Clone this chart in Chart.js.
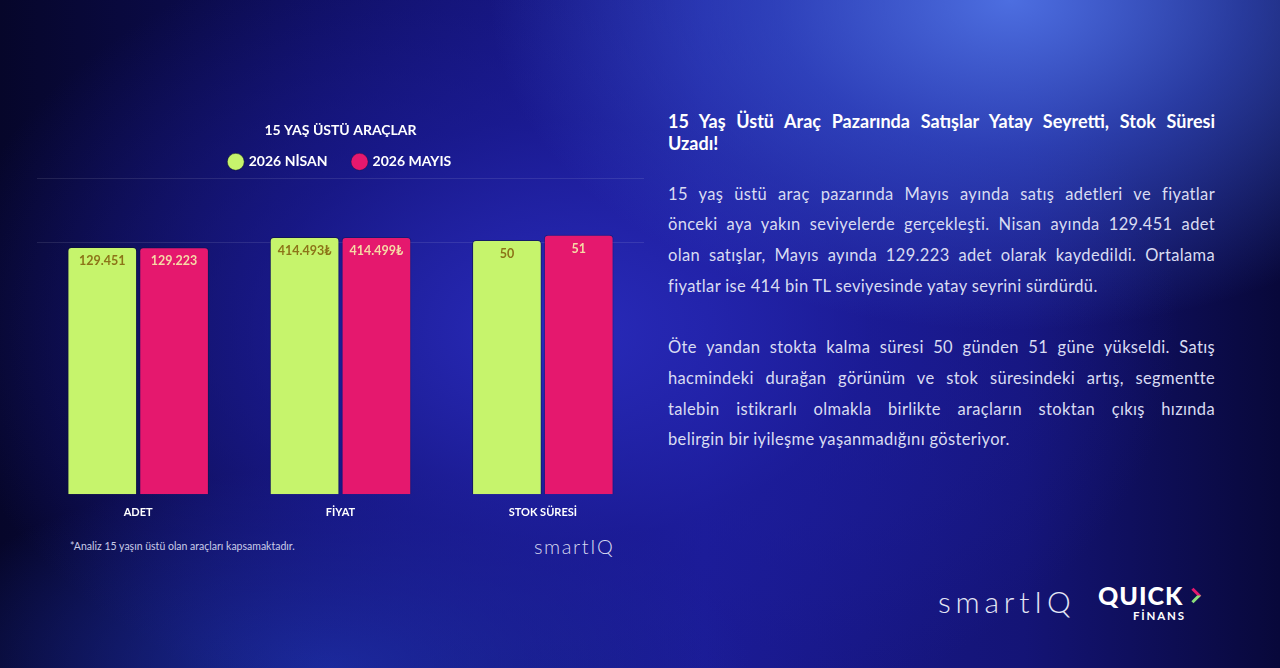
<!DOCTYPE html>
<html lang="tr">
<head>
<meta charset="utf-8">
<script src="https://cdn.jsdelivr.net/npm/chart.js@4.4.1/dist/chart.umd.min.js"></script>
<style>
  html, body { margin: 0; padding: 0; }
  body {
    width: 1280px; height: 668px; overflow: hidden; position: relative;
    font-family: Lato, "Open Sans", sans-serif;
    background:
      radial-gradient(ellipse 520px 330px at 1010px 0px, rgba(80,115,230,0.95) 0%, rgba(60,90,215,0.6) 45%, rgba(50,60,200,0) 100%),
      radial-gradient(ellipse 620px 420px at 560px 330px, rgba(42,44,190,0.95) 0%, rgba(30,30,160,0.6) 50%, rgba(20,20,120,0) 100%),
      radial-gradient(ellipse 420px 200px at 330px 668px, rgba(30,50,170,0.8) 0%, rgba(30,50,170,0) 100%),
      linear-gradient(90deg, #06062a 0%, #0e0e5e 25%, #1a1a92 55%, #141476 80%, #08083a 100%);
  }
  #chartBox { position: absolute; left: 0; top: 0; width: 660px; height: 522px; }
  .note { position: absolute; left: 70px; top: 540px; color: #c9cce8; font-size: 10.5px; }
  .logoSmall { position: absolute; left: 534px; top: 534px; color: #d7d9f0; font-size: 20px; font-weight: 300; letter-spacing: 1.6px; }
  .text { position: absolute; left: 668px; top: 110px; width: 547px; color: #d9dcf2; }
  .text h2 { margin: 0 0 24.5px 0; font-size: 18px; line-height: 22px; font-weight: 700; color: #ffffff; }
  .text p { margin: 0 0 31px 0; font-size: 16.5px; line-height: 30.7px; letter-spacing: 0.35px; }
  .j { display: block; text-align: justify; text-align-last: justify; white-space: nowrap; }
  .logoBig { position: absolute; left: 938px; top: 583px; color: #e4e6f5; font-size: 30px; font-weight: 300; letter-spacing: 4.8px; }
  .quick { position: absolute; left: 1098px; top: 580px; color: #ffffff; font-size: 25px; font-weight: 900; letter-spacing: 1px; }
  .arrow { position: absolute; left: 1188px; top: 590px; width: 8px; height: 8px; border-top: 3px solid #e5186e; border-right: 3px solid #8be07a; transform: rotate(45deg); }
  .finans { position: absolute; left: 1133px; top: 609px; color: #ffffff; font-size: 11.5px; font-weight: 700; letter-spacing: 1.8px; }
</style>
</head>
<body>
<div id="chartBox"><canvas id="chart"></canvas></div>
<div class="note">*Analiz 15 yaşın üstü olan araçları kapsamaktadır.</div>
<div class="logoSmall">smartIQ</div>

<div class="text">
  <h2><span class="j">15 Yaş Üstü Araç Pazarında Satışlar Yatay Seyretti, Stok Süresi</span>Uzadı!</h2>
  <p><span class="j">15 yaş üstü araç pazarında Mayıs ayında satış adetleri ve fiyatlar</span><span class="j">önceki aya yakın seviyelerde gerçekleşti. Nisan ayında 129.451 adet</span><span class="j">olan satışlar, Mayıs ayında 129.223 adet olarak kaydedildi. Ortalama</span>fiyatlar ise 414 bin TL seviyesinde yatay seyrini sürdürdü.</p>
  <p><span class="j">Öte yandan stokta kalma süresi 50 günden 51 güne yükseldi. Satış</span><span class="j">hacmindeki durağan görünüm ve stok süresindeki artış, segmentte</span><span class="j">talebin istikrarlı olmakla birlikte araçların stoktan çıkış hızında</span>belirgin bir iyileşme yaşanmadığını gösteriyor.</p>
</div>

<div class="logoBig">smartIQ</div>
<div class="quick">QUICK</div>
<div class="arrow"></div>
<div class="finans">FİNANS</div>

<script>
// veriler
const categories = ['ADET', 'FİYAT', 'STOK SÜRESİ'];
const nisanValues = [129451, 414493, 50];
const mayisValues = [129223, 414499, 51];
const seriesNames = ['2026 NİSAN', '2026 MAYIS'];
// her kategorinin kendi eksen üst sınırı (grafikte her grup ayrı ölçekte)
const categoryMax = [165000, 508000, 62];

const green = '#c6f46c';
const pink = '#e5186e';

function toShare(values) {
    return values.map((v, i) => v / categoryMax[i]);
}

function formatValue(v, i) {
    const s = new Intl.NumberFormat('tr-TR').format(v);
    if (i === 1) return s + '₺';
    return s;
}

const raw = [nisanValues, mayisValues];
const labelColors = ['#8c7418', '#f6d9a6'];

// çubukların üstüne değer yazan küçük eklenti
const valueLabels = {
    id: 'valueLabels',
    afterDatasetsDraw(chart) {
        const ctx = chart.ctx;
        ctx.save();
        ctx.font = 'bold 12.5px Lato, sans-serif';
        ctx.textAlign = 'center';
        ctx.textBaseline = 'middle';
        chart.data.datasets.forEach((ds, di) => {
            chart.getDatasetMeta(di).data.forEach((bar, i) => {
                ctx.fillStyle = labelColors[di];
                ctx.fillText(formatValue(raw[di][i], i), bar.x, bar.y + 14);
            });
        });
        ctx.restore();
    }
};

new Chart(document.getElementById('chart'), {
    type: 'bar',
    data: {
        labels: categories,
        datasets: [{
            label: seriesNames[0],
            data: toShare(nisanValues),
            backgroundColor: green,
            borderColor: 'rgba(10,20,40,0.5)',
            borderWidth: 1,
            borderRadius: { topLeft: 4, topRight: 4 },
            borderSkipped: 'bottom'
        }, {
            label: seriesNames[1],
            data: toShare(mayisValues),
            backgroundColor: pink,
            borderColor: 'rgba(10,20,40,0.3)',
            borderWidth: 1,
            borderRadius: { topLeft: 4, topRight: 4 },
            borderSkipped: 'bottom'
        }]
    },
    options: {
        responsive: true,
        maintainAspectRatio: false,
        animation: false,
        layout: { padding: { left: 37, right: 16, top: 122, bottom: 0 } },
        datasets: { bar: { categoryPercentage: 0.71, barPercentage: 0.97 } },
        plugins: {
            title: {
                display: true,
                text: '15 YAŞ ÜSTÜ ARAÇLAR',
                color: '#ffffff',
                font: { family: 'Lato', size: 14, weight: 'bold' },
                padding: { top: 0, bottom: -10 }
            },
            legend: {
                labels: {
                    color: '#ffffff',
                    font: { family: 'Lato', size: 14, weight: 'bold' },
                    usePointStyle: true,
                    pointStyle: 'circle',
                    boxWidth: 12,
                    boxHeight: 12,
                    padding: 26
                }
            },
            tooltip: { enabled: false }
        },
        scales: {
            x: {
                grid: { display: false },
                border: { display: false },
                ticks: { color: '#ffffff', font: { family: 'Lato', size: 11, weight: 'bold' }, padding: 3 }
            },
            y: {
                display: true,
                min: 0,
                max: 1,
                ticks: { display: false, stepSize: 0.2 },
                border: { display: false },
                grid: {
                    drawTicks: false,
                    color: (c) => (c.tick && c.tick.value >= 0.79) ? 'rgba(255,255,255,0.1)' : 'rgba(255,255,255,0)'
                }
            }
        }
    },
    plugins: [valueLabels]
});
</script>
</body>
</html>
